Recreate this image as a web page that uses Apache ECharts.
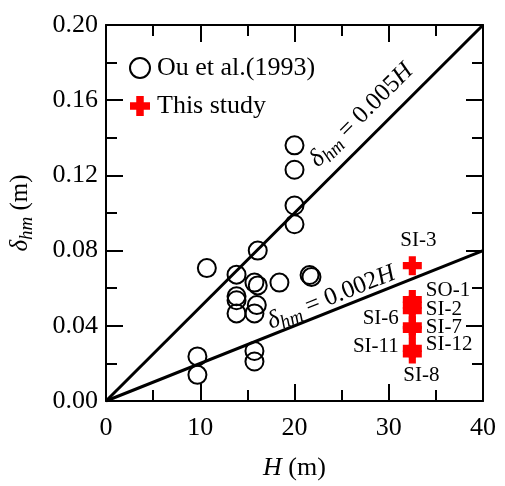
<!DOCTYPE html>
<html>
<head>
<meta charset="utf-8">
<script src="https://cdn.jsdelivr.net/npm/echarts@6/dist/echarts.min.js"></script>
<style>
  html, body { margin: 0; padding: 0; background: #fff; }
  #container { width: 505px; height: 486px; }
</style>
</head>
<body>
<div id="container"></div>
<script>
// Ou et al.(1993) 的数据点
var ouH = [20, 20, 20, 20, 16.1, 10.7, 13.85, 15.75, 16.1, 18.4, 21.6, 21.8,
  13.85, 13.85, 16.0, 13.85, 15.75, 15.75, 15.75, 9.7, 9.7]
var ouDelta = [0.136, 0.123, 0.104, 0.094, 0.080, 0.0707, 0.0672, 0.063, 0.0615, 0.063, 0.067, 0.066,
  0.0557, 0.0536, 0.051, 0.0466, 0.0466, 0.0266, 0.021, 0.0237, 0.0139]

// This study
var studyNames = ['SI-3', 'SO-1', 'SI-2', 'SI-6', 'SI-7', 'SI-12', 'SI-11', 'SI-8']
var studyH = [32.5, 32.5, 32.5, 32.5, 32.5, 32.5, 32.5, 32.5]
var studyDelta = [0.072, 0.054, 0.051, 0.048, 0.040, 0.038, 0.028, 0.025]

// 参考线 δhm = 0.005H, δhm = 0.002H
var line005 = [[0, 0], [40, 0.2]]
var line002 = [[0, 0], [40, 0.08]]

var xTicks = [0, 10, 20, 30, 40]
var yTicks = ['0.00', '0.04', '0.08', '0.12', '0.16', '0.20']

var font = "'Liberation Serif', 'Times New Roman', serif"

// 标签位置
var labelPos = {
  'SI-3': { position: 'top', offset: [6, 0], distance: 5 },
  'SO-1': { position: 'right', offset: [0, -9], distance: 4 },
  'SI-2': { position: 'right', offset: [0, 4], distance: 4 },
  'SI-6': { position: 'left', offset: [0, 8], distance: 4 },
  'SI-7': { position: 'right', offset: [0, 2], distance: 4 },
  'SI-12': { position: 'right', offset: [0, 15], distance: 4 },
  'SI-11': { position: 'left', offset: [0, -2], distance: 4 },
  'SI-8': { position: 'bottom', offset: [9, 0], distance: 1 }
}

var crossPath = 'path://M5,0H11V5H16V11H11V16H5V11H0V5H5Z'

var ouData = ouH.map(function(h, i) { return [h, ouDelta[i]] })
var studyData = studyH.map(function(h, i) {
  var lp = labelPos[studyNames[i]]
  return {
    name: studyNames[i],
    value: [h, studyDelta[i]],
    label: {
      show: true,
      formatter: studyNames[i],
      position: lp.position,
      offset: lp.offset,
      distance: lp.distance,
      color: '#000',
      fontSize: 21,
      fontFamily: font
    }
  }
})

function axisCommon(extra) {
  var base = {
    axisLine: { show: true, onZero: false, lineStyle: { color: '#000', width: 2 } },
    axisTick: { show: true, inside: true, length: 17, lineStyle: { color: '#000', width: 2 } },
    minorTick: { show: true, splitNumber: 2, length: 11, lineStyle: { color: '#000', width: 2 } },
    splitLine: { show: false }
  }
  for (var k in extra) base[k] = extra[k]
  return base
}

var richLine = {
  d: { fontSize: 25, fontFamily: font, fontStyle: 'italic', color: '#000', verticalAlign: 'middle' },
  s: { fontSize: 19, fontFamily: font, fontStyle: 'italic', color: '#000', verticalAlign: 'bottom', lineHeight: 31 },
  n: { fontSize: 25, fontFamily: font, color: '#000', verticalAlign: 'middle' },
  i: { fontSize: 25, fontFamily: font, fontStyle: 'italic', color: '#000', verticalAlign: 'middle' }
}

var chart = echarts.init(document.getElementById('container'))
chart.setOption({
  backgroundColor: '#fff',
  animation: false,
  grid: { left: 105, right: 22, top: 25, bottom: 83 },
  legend: {
    orient: 'vertical',
    left: 124,
    top: 50,
    itemWidth: 20,
    itemHeight: 20,
    itemGap: 12,
    textStyle: { fontSize: 26, fontFamily: font, color: '#000', padding: [0, 0, 0, 2] },
    data: [
      { name: 'Ou et al.(1993)', icon: 'circle' },
      { name: 'This study', icon: crossPath }
    ]
  },
  xAxis: [
    axisCommon({
      type: 'value', min: 0, max: 40, interval: 10,
      name: '{i|H} (m)', nameLocation: 'middle', nameGap: 54,
      nameTextStyle: {
        fontSize: 26, fontFamily: font, color: '#000',
        rich: { i: { fontSize: 26, fontFamily: font, fontStyle: 'italic', color: '#000' } }
      },
      axisLabel: {
        margin: 14, fontSize: 26, fontFamily: font, color: '#000',
        formatter: function(v) { return xTicks.indexOf(v) >= 0 ? String(v) : '' }
      }
    }),
    axisCommon({ type: 'value', min: 0, max: 40, interval: 10, position: 'top', axisLabel: { show: false } })
  ],
  yAxis: [
    axisCommon({
      type: 'value', min: 0, max: 0.2, interval: 0.04,
      name: '{d|δ}{s|hm}{n| (m)}', nameLocation: 'middle', nameGap: 70,
      nameTextStyle: { rich: richLine },
      axisLabel: {
        margin: 8, fontSize: 26, fontFamily: font, color: '#000',
        formatter: function(v) { return yTicks[Math.round(v / 0.04)] }
      }
    }),
    axisCommon({ type: 'value', min: 0, max: 0.2, interval: 0.04, position: 'right', axisLabel: { show: false } })
  ],
  series: [
    {
      name: 'δhm = 0.005H',
      type: 'line',
      data: line005,
      symbol: 'none',
      lineStyle: { color: '#000', width: 3 },
      silent: true
    },
    {
      name: 'δhm = 0.002H',
      type: 'line',
      data: line002,
      symbol: 'none',
      lineStyle: { color: '#000', width: 3 },
      silent: true
    },
    {
      name: 'Ou et al.(1993)',
      type: 'scatter',
      data: ouData,
      symbol: 'circle',
      symbolSize: 18,
      itemStyle: { color: 'rgba(255,255,255,0)', borderColor: '#000', borderWidth: 2, opacity: 1 },
      z: 3
    },
    {
      name: 'This study',
      type: 'scatter',
      data: studyData,
      symbol: crossPath,
      symbolSize: 19,
      itemStyle: { color: '#ff0000', opacity: 1 },
      z: 4
    },
    {
      // 参考线文字
      type: 'scatter',
      symbolSize: 0,
      silent: true,
      itemStyle: { opacity: 1 },
      data: [
        { value: [27.1, 0.152], label: { rotate: 45, formatter: '{d|δ}{s|hm}{n| = 0.005}{i|H}' } },
        { value: [23.9, 0.055], label: { rotate: 21.8, formatter: '{d|δ}{s|hm}{n| = 0.002}{i|H}' } }
      ],
      label: { show: true, position: 'inside', opacity: 1, rich: richLine }
    }
  ]
})
</script>
</body>
</html>
